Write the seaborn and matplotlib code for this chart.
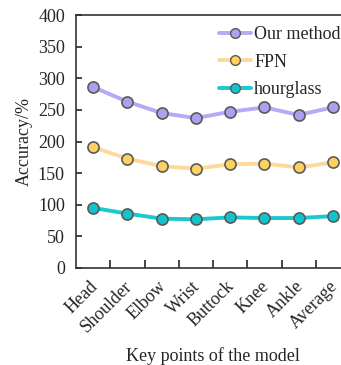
import matplotlib
matplotlib.use("Agg")
import matplotlib.pyplot as plt
import matplotlib.transforms as mtransforms
from matplotlib.lines import Line2D
import seaborn as sns
import pandas as pd
import numpy as np

keypoints = ["Head", "Shoulder", "Elbow", "Wrist", "Buttock", "Knee", "Ankle", "Average"]
our_method = [286, 263, 245, 237, 247, 254, 242, 254]
fpn = [191, 173, 161, 157, 164, 165, 159, 167]
hourglass = [95, 86, 78, 77, 80, 79, 79, 82]
series_names = ["Our method", "FPN", "hourglass"]
y_ticks = [0, 50, 100, 150, 200, 250, 300, 350, 400]

line_colors = ["#b6aaf6", "#fdd99b", "#19c9cf"]
face_colors = ["#ada0f0", "#fdd062", "#10c4cb"]
edge_color = "#5a5a5a"

sns.set_style("ticks")
plt.rcParams["font.family"] = ["Liberation Serif", "DejaVu Serif"]
FS = 13

df = pd.DataFrame({
    "pos": np.tile(np.arange(len(keypoints)), 3),
    "acc": our_method + fpn + hourglass,
    "series": np.repeat(series_names, len(keypoints)),
})

fig = plt.figure(figsize=(3.41, 3.65), dpi=100)
ax = fig.add_axes([76 / 341, 97 / 365, 274 / 341, 253 / 365])

sns.lineplot(data=df, x="pos", y="acc", hue="series", hue_order=series_names,
             palette=line_colors, linewidth=2.8, ax=ax, legend=False)
for name, fc in zip(series_names, face_colors):
    sub = df[df["series"] == name]
    ax.plot(sub["pos"], sub["acc"], linestyle="none", marker="o", markersize=8,
            markerfacecolor=fc, markeredgecolor=edge_color, markeredgewidth=1.2)

# legend handles combining line and marker
handles = [Line2D([0], [0], color=lc, lw=2.8, marker="o", markersize=7,
                  markerfacecolor=fc, markeredgecolor=edge_color, markeredgewidth=1.0)
           for lc, fc in zip(line_colors, face_colors)]
ax.legend(handles, series_names, loc="upper left", bbox_to_anchor=(0.482, 1.0),
          frameon=False, fontsize=FS, handlelength=1.8, handletextpad=0.15,
          labelspacing=0.6, borderaxespad=0.2)

ax.set_xlim(-0.5, len(keypoints) - 0.5)
ax.set_ylim(0, 400)
ax.set_yticks(y_ticks)
ax.set_xticks(range(len(keypoints)))
ax.set_xticklabels(keypoints, rotation=45, ha="right", rotation_mode="anchor")
ax.set_xticks(np.arange(0.5, len(keypoints) - 0.5, 1), minor=True)
ax.tick_params(axis="x", which="major", length=0, pad=7, labelsize=FS)
ax.tick_params(axis="x", which="minor", direction="in", length=6, width=1.2)
ax.tick_params(axis="y", direction="in", length=4, width=1.2, labelsize=FS, pad=8)

# nudge rotated category labels slightly left
shift = mtransforms.ScaledTranslation(-4 / 100, 0, fig.dpi_scale_trans)
for lbl in ax.get_xticklabels():
    lbl.set_transform(lbl.get_transform() + shift)

ax.spines["right"].set_visible(False)
for side in ["left", "bottom", "top"]:
    ax.spines[side].set_linewidth(1.2)
    ax.spines[side].set_color("#333333")

ax.set_xlabel("Key points of the model", fontsize=FS, labelpad=8)
ax.set_ylabel("Accuracy/%", fontsize=FS, labelpad=4)

fig.savefig("out.png", dpi=100)
